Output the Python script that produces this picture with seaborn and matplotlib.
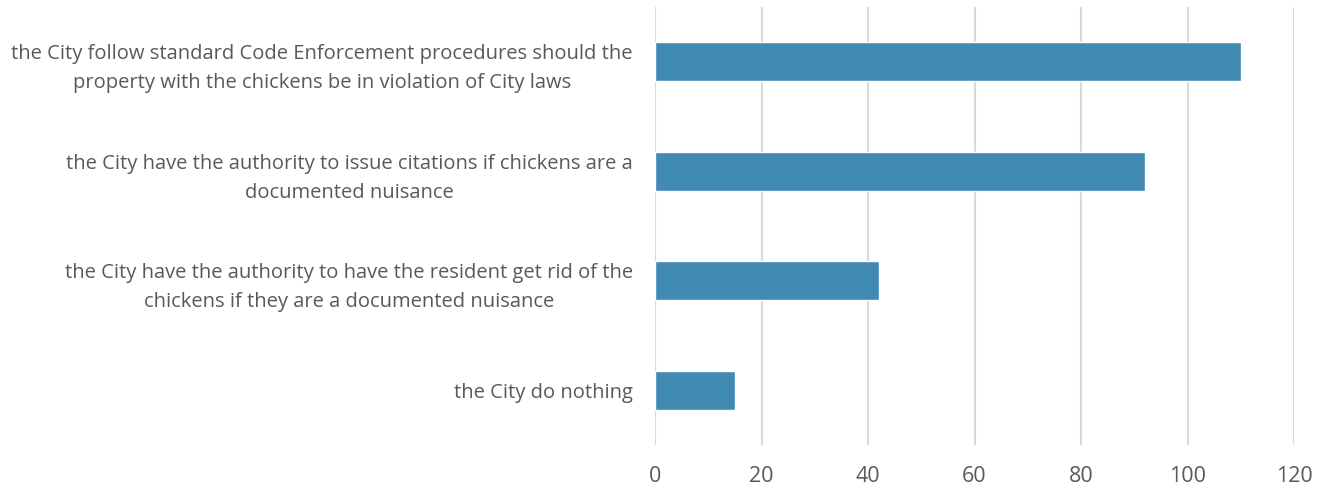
import matplotlib
matplotlib.use("Agg")
import matplotlib.pyplot as plt
import seaborn as sns
import pandas as pd

categories = [
    "the City follow standard Code Enforcement procedures should the\nproperty with the chickens be in violation of City laws",
    "the City have the authority to issue citations if chickens are a\ndocumented nuisance",
    "the City have the authority to have the resident get rid of the\nchickens if they are a documented nuisance",
    "the City do nothing",
]
values = [110, 92, 42, 15]
x_ticks = [0, 20, 40, 60, 80, 100, 120]

sns.set_theme(style="white")
plt.rcParams['font.family'] = ['Open Sans', 'DejaVu Sans']

df = pd.DataFrame({"label": categories, "value": values})

fig = plt.figure(figsize=(13.24, 4.91), dpi=100)
ax = fig.add_axes([655/1324, 1-445/491, (1294-655)/1324, (445-7)/491])
sns.barplot(data=df, y="label", x="value", orient="h", color="#418AB3",
            width=0.355, saturation=1, ax=ax, zorder=3)
ax.set_xlim(0, 120)
ax.set_ylim(3.5, -0.5)
ax.set_xticks(x_ticks)
ax.set_xticklabels([str(t) for t in x_ticks])
ax.grid(axis="x", color="#D9D9D9", linewidth=1.5, zorder=0)
ax.set_axisbelow(True)
for s in ax.spines.values():
    s.set_visible(False)
ax.set_xlabel("")
ax.set_ylabel("")
ax.tick_params(axis="both", length=0, colors="#595959")
ax.tick_params(axis="x", labelsize=15.5, pad=15)
ax.tick_params(axis="y", labelsize=14.5, pad=16)
for lab in ax.get_yticklabels():
    lab.set_multialignment("center")
    lab.set_linespacing(1.6)

fig.savefig("out.png", dpi=100)
